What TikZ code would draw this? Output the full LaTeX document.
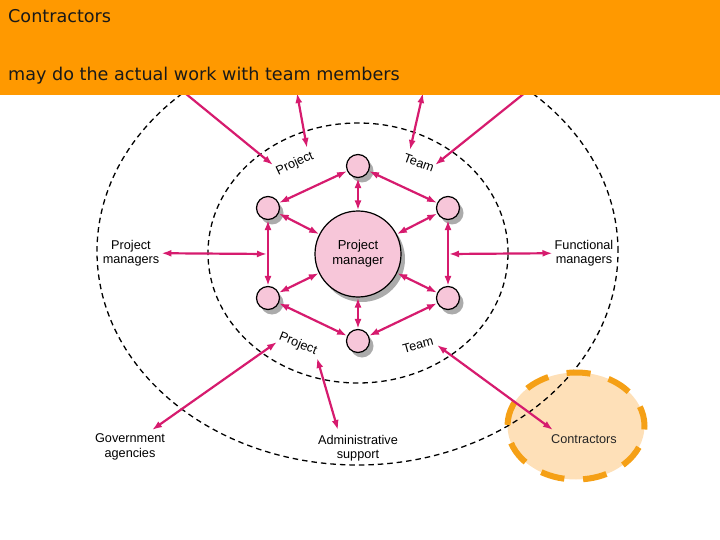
\documentclass[tikz,border=0pt]{standalone}
\usepackage{fontspec}
\setmainfont{Liberation Sans}
\newfontfamily\fejfont{DejaVu Sans}
\usetikzlibrary{arrows.meta,shadows}
\definecolor{fejlec}{RGB}{255,153,0}
\definecolor{bibor}{RGB}{214,27,110}
\definecolor{rozsa}{RGB}{247,198,217}
\definecolor{halv}{RGB}{254,224,184}
\definecolor{narancs}{RGB}{245,160,22}
\tikzset{
  kis/.style={circle,draw,line width=1.2pt,fill=rozsa,inner sep=0pt,minimum size=23pt,
    drop shadow={shadow xshift=4pt,shadow yshift=-5pt,fill=black!33,opacity=1}},
  nagy/.style={kis,minimum size=86pt,align=center,font=\fontsize{13}{15}\selectfont},
  cimke/.style={align=center,inner sep=2pt,font=\fontsize{12.7}{14.5}\selectfont},
  szag/.style={draw,line width=1.3pt,dash pattern=on 5.5pt off 4pt},
  kettos/.style={{Latex[length=10pt,width=7pt]}-{Latex[length=10pt,width=7pt]},line width=2.2pt,draw=bibor},
  nyil/.style={-{Latex[length=10pt,width=7pt]},line width=2.2pt,draw=bibor},
  fej/.style={anchor=base west,inner sep=0pt,text=black!90,font=\fejfont\fontsize{17.6}{20}\selectfont},
}

\begin{document}
\begin{tikzpicture}[x=1pt,y=-1pt]
  \useasboundingbox (0,0) rectangle (720,540);
  % gyuruk
  \fill[halv] (576,426) ellipse [x radius=68.5pt,y radius=53.5pt];
  \draw[szag] (357.5,251.5) ellipse [x radius=260.5pt,y radius=213.5pt];
  \draw[szag] (358,253) ellipse [x radius=150pt,y radius=130pt];
  \draw[narancs,line width=6pt,dash pattern=on 24pt off 18.8pt,dash phase=4pt]
    (576,426) ellipse [x radius=68.5pt,y radius=53.5pt];

  % csapat
  \node[nagy] (pm) at (358,254) {Project\\manager};
  \node[kis] (t) at (358,166) {};
  \node[kis] (ul) at (268,208) {};
  \node[kis] (ur) at (448,208) {};
  \node[kis] (ll) at (268,298) {};
  \node[kis] (lr) at (448,298) {};
  \node[kis] (b) at (358,341) {};
  \foreach \a/\b in {t/pm,t/ul,t/ur,ul/pm,ur/pm,ul/ll,ur/lr,ll/pm,lr/pm,ll/b,lr/b,b/pm}
    \draw[kettos] (\a) -- (\b);

  \node[cimke,rotate=25] (projA) at (295,164) {Project};
  \node[cimke,rotate=-20] (teamA) at (419,163) {Team};
  \node[cimke,rotate=-22] (projB) at (298,344) {Project};
  \node[cimke,rotate=15] (teamB) at (418,345) {Team};
  \node[cimke] (pmgr) at (131,253) {Project\\managers};
  \node[cimke] (fmgr) at (584,253) {Functional\\managers};
  \node[cimke] (gov) at (130,447) {Government\\agencies};
  \node[cimke] (admin) at (358,448) {Administrative\\support};
  \node[cimke,text=black!85] (contr) at (584,439) {Contractors};

  \coordinate (n1) at (169,80);  \coordinate (n1v) at (273,165);
  \coordinate (n2) at (297,93);  \coordinate (n2v) at (307,148);
  \coordinate (n3) at (423,93);  \coordinate (n3v) at (410,150);
  \coordinate (n4) at (541,80);  \coordinate (n4v) at (435,165);
  \coordinate (lmid) at (267,254); \coordinate (rmid) at (449,254);
  \coordinate (s1) at (277,342); \coordinate (s1v) at (152,430);
  \coordinate (s2) at (317,358); \coordinate (s2v) at (338,430);
  \coordinate (s3) at (437,345); \coordinate (s3v) at (553,430);
  \draw[nyil] (n1) -- (n1v);
  \draw[kettos] (n2) -- (n2v);
  \draw[kettos] (n3) -- (n3v);
  \draw[nyil] (n4) -- (n4v);
  \draw[kettos] (lmid) -- (pmgr);
  \draw[kettos] (rmid) -- (fmgr);
  \draw[kettos] (s1) -- (s1v);
  \draw[kettos] (s2) -- (s2v);
  \draw[kettos] (s3) -- (s3v);

  % fejlec
  \fill[fejlec] (0,0) rectangle (720,95);
  \node[fej] (cim) at (8,23) {Contractors};
  \node[fej] (alcim) at (8,81) {may do the actual work with team members};
\end{tikzpicture}
\end{document}
